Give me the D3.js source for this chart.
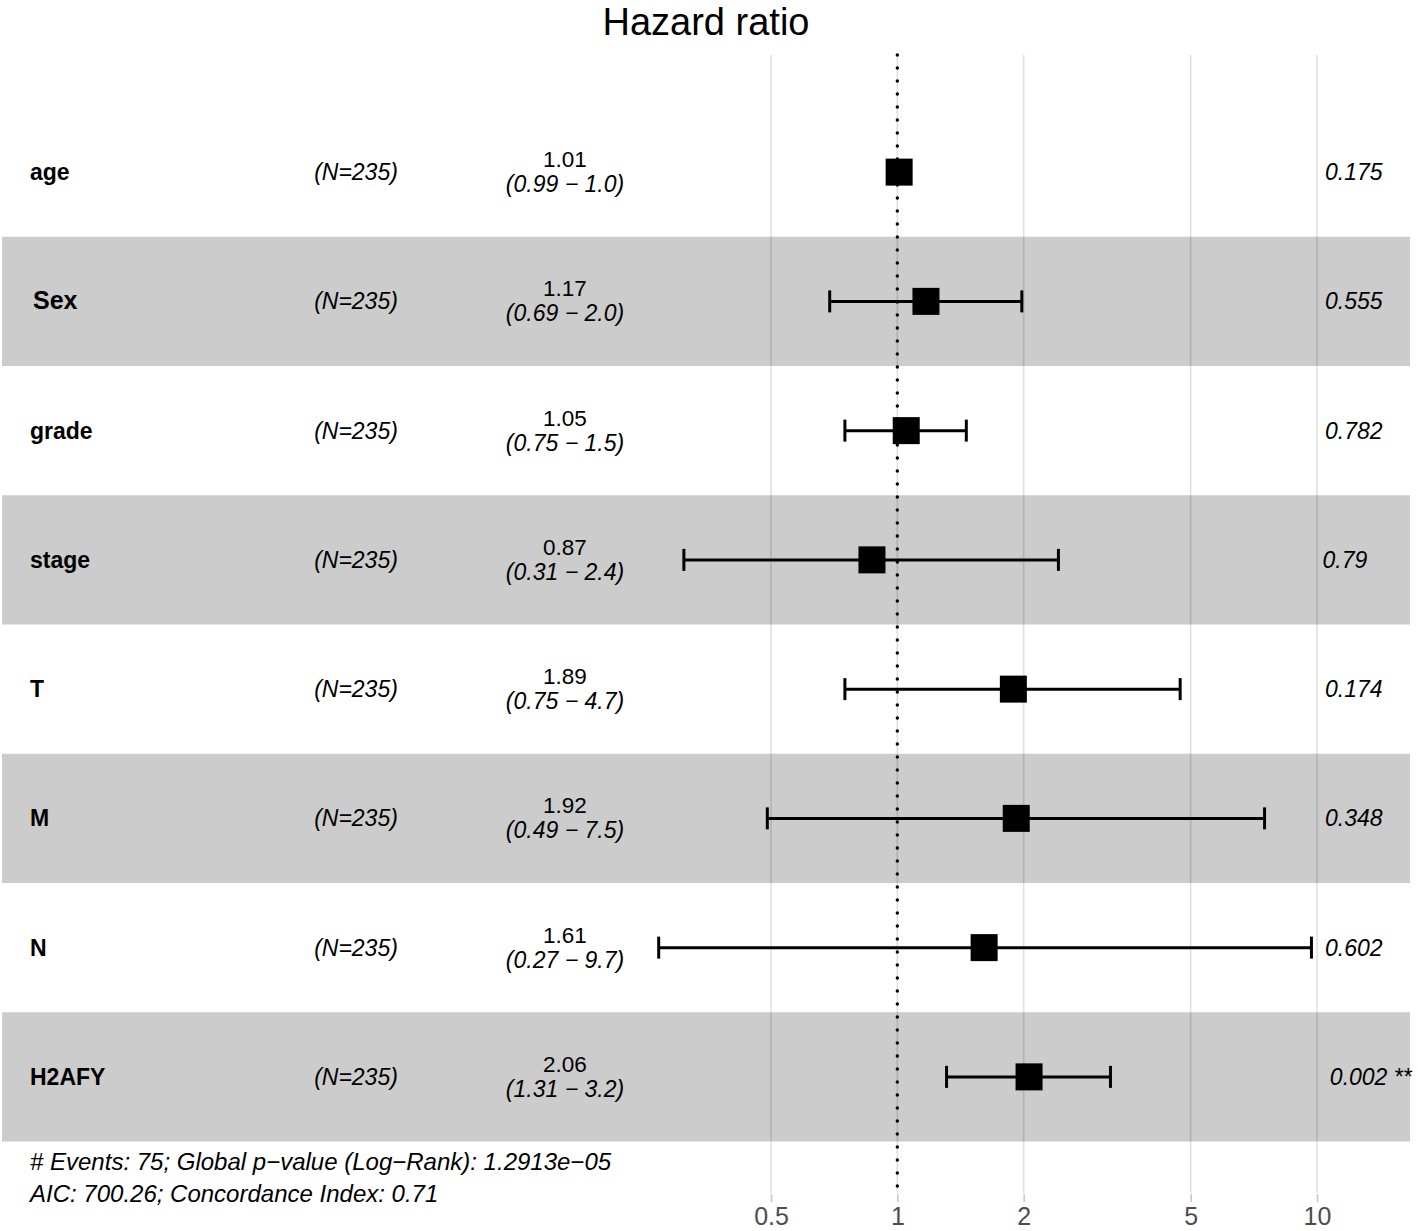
<!DOCTYPE html>
<html>
<head>
<meta charset="utf-8">
<script src="https://cdn.jsdelivr.net/npm/d3@7"></script>
<style>
  html, body { margin: 0; padding: 0; background: #fff; }
  svg { display: block; font-family: "Liberation Sans", Arial, sans-serif; }
</style>
</head>
<body>
<svg id="chart" width="1418" height="1231"></svg>
<script>
// ---- data ----
const variables = ["age", "Sex", "grade", "stage", "T", "M", "N", "H2AFY"];
const nLabels = ["(N=235)", "(N=235)", "(N=235)", "(N=235)", "(N=235)", "(N=235)", "(N=235)", "(N=235)"];
const hr = [1.01, 1.17, 1.05, 0.87, 1.89, 1.92, 1.61, 2.06];
const ciLow = [0.99, 0.69, 0.75, 0.31, 0.75, 0.49, 0.27, 1.31];
const ciHigh = [1.03, 1.98, 1.46, 2.42, 4.72, 7.5, 9.7, 3.22];
const hrLabels = ["1.01", "1.17", "1.05", "0.87", "1.89", "1.92", "1.61", "2.06"];
const ciLabels = ["(0.99 \u2212 1.0)", "(0.69 \u2212 2.0)", "(0.75 \u2212 1.5)", "(0.31 \u2212 2.4)",
                  "(0.75 \u2212 4.7)", "(0.49 \u2212 7.5)", "(0.27 \u2212 9.7)", "(1.31 \u2212 3.2)"];
const pLabels = ["0.175", "0.555", "0.782", "0.79", "0.174", "0.348", "0.602", "0.002 **"];
const tickValues = [0.5, 1, 2, 5, 10];
const tickLabels = ["0.5", "1", "2", "5", "10"];
const titleText = "Hazard ratio";
const footerLines = ["# Events: 75; Global p\u2212value (Log\u2212Rank): 1.2913e\u221205",
                     "AIC: 700.26; Concordance Index: 0.71"];

// ---- layout ----
const svg = d3.select("#chart");
const panel = { left: 2, right: 1410, top: 55, bottom: 1193 };
const x = d3.scaleLog().domain([0.5, 10]).range([771, 1317]);
const y = d3.scaleBand().domain(variables).range([107.5, 1141.5]).padding(0);
const bw = y.bandwidth();
const cy = v => y(v) + bw / 2;
const rows = variables.map((v, i) => ({
  v, i, n: nLabels[i], hr: hr[i], lo: ciLow[i], hi: ciHigh[i],
  hrL: hrLabels[i], ciL: ciLabels[i], p: pLabels[i]
}));

// bands
svg.append("g").selectAll("rect")
  .data(rows.filter(d => d.i % 2 === 1))
  .join("rect")
  .attr("x", panel.left).attr("width", panel.right - panel.left)
  .attr("y", d => y(d.v)).attr("height", bw)
  .attr("fill", "#cccccc");

// gridlines
svg.append("g").selectAll("line")
  .data(tickValues)
  .join("line")
  .attr("x1", d => x(d)).attr("x2", d => x(d))
  .attr("y1", panel.top).attr("y2", panel.bottom)
  .attr("stroke", "rgba(0,0,0,0.12)").attr("stroke-width", 1.6);

// axis
const axis = d3.axisBottom(x).tickValues(tickValues)
  .tickFormat((d, i) => tickLabels[i]).tickSize(8).tickPadding(5);
const ax = svg.append("g").attr("transform", `translate(0,${panel.bottom + 1})`).call(axis);
ax.select(".domain").remove();
ax.selectAll(".tick line").attr("stroke", "#c8c8c8").attr("stroke-width", 1.6);
ax.selectAll(".tick text").attr("fill", "#4d4d4d")
  .style("font-family", "Liberation Sans, Arial, sans-serif").style("font-size", "25px");

// reference line at HR = 1
svg.append("line")
  .attr("x1", x(1)).attr("x2", x(1))
  .attr("y1", panel.top).attr("y2", panel.bottom)
  .attr("stroke", "#000").attr("stroke-width", 3.4)
  .attr("stroke-linecap", "round").attr("stroke-dasharray", "0,13");

// error bars
const eb = svg.append("g").attr("stroke", "#000").attr("stroke-width", 3);
eb.selectAll("line.h").data(rows).join("line").attr("class", "h")
  .attr("x1", d => x(d.lo)).attr("x2", d => x(d.hi))
  .attr("y1", d => cy(d.v)).attr("y2", d => cy(d.v));
eb.selectAll("line.l").data(rows).join("line").attr("class", "l")
  .attr("x1", d => x(d.lo)).attr("x2", d => x(d.lo))
  .attr("y1", d => cy(d.v) - 11).attr("y2", d => cy(d.v) + 11);
eb.selectAll("line.r").data(rows).join("line").attr("class", "r")
  .attr("x1", d => x(d.hi)).attr("x2", d => x(d.hi))
  .attr("y1", d => cy(d.v) - 11).attr("y2", d => cy(d.v) + 11);

// squares
const sq = 27;
svg.append("g").selectAll("rect")
  .data(rows).join("rect")
  .attr("x", d => x(d.hr) - sq / 2).attr("y", d => cy(d.v) - sq / 2)
  .attr("width", sq).attr("height", sq).attr("fill", "#000");

// variable names
svg.append("g").selectAll("text")
  .data(rows).join("text")
  .attr("x", d => d.v === "Sex" ? 33 : 30)
  .attr("y", d => cy(d.v) + 8)
  .attr("font-weight", "bold")
  .attr("font-size", d => d.v === "Sex" ? 25 : 23)
  .text(d => d.v);

// N labels
svg.append("g").selectAll("text")
  .data(rows).join("text")
  .attr("x", 356).attr("y", d => cy(d.v) + 8)
  .attr("text-anchor", "middle").attr("font-style", "italic").attr("font-size", 23)
  .text(d => d.n);

// estimate labels
const est = svg.append("g").attr("text-anchor", "middle");
est.selectAll("text.hr").data(rows).join("text").attr("class", "hr")
  .attr("x", 565).attr("y", d => cy(d.v) - 5).attr("font-size", 22.5).text(d => d.hrL);
est.selectAll("text.ci").data(rows).join("text").attr("class", "ci")
  .attr("x", 565).attr("y", d => cy(d.v) + 20).attr("font-style", "italic").attr("font-size", 23).text(d => d.ciL);

// p-values (hjust = -0.2 relative to anchor)
const pBase = 1313.5;
svg.append("g").selectAll("text")
  .data(rows).join("text")
  .attr("y", d => cy(d.v) + 8)
  .attr("font-style", "italic").attr("font-size", 23)
  .text(d => d.p)
  .attr("x", function () { return pBase + 0.2 * this.getComputedTextLength(); });

// title
svg.append("text").attr("x", 706).attr("y", 35)
  .attr("text-anchor", "middle").attr("font-size", 38).text(titleText);

// footer
svg.append("g").selectAll("text")
  .data(footerLines).join("text")
  .attr("x", 30).attr("y", (d, i) => 1170 + i * 32)
  .attr("font-style", "italic").attr("font-size", 24)
  .text(d => d);
</script>
</body>
</html>
